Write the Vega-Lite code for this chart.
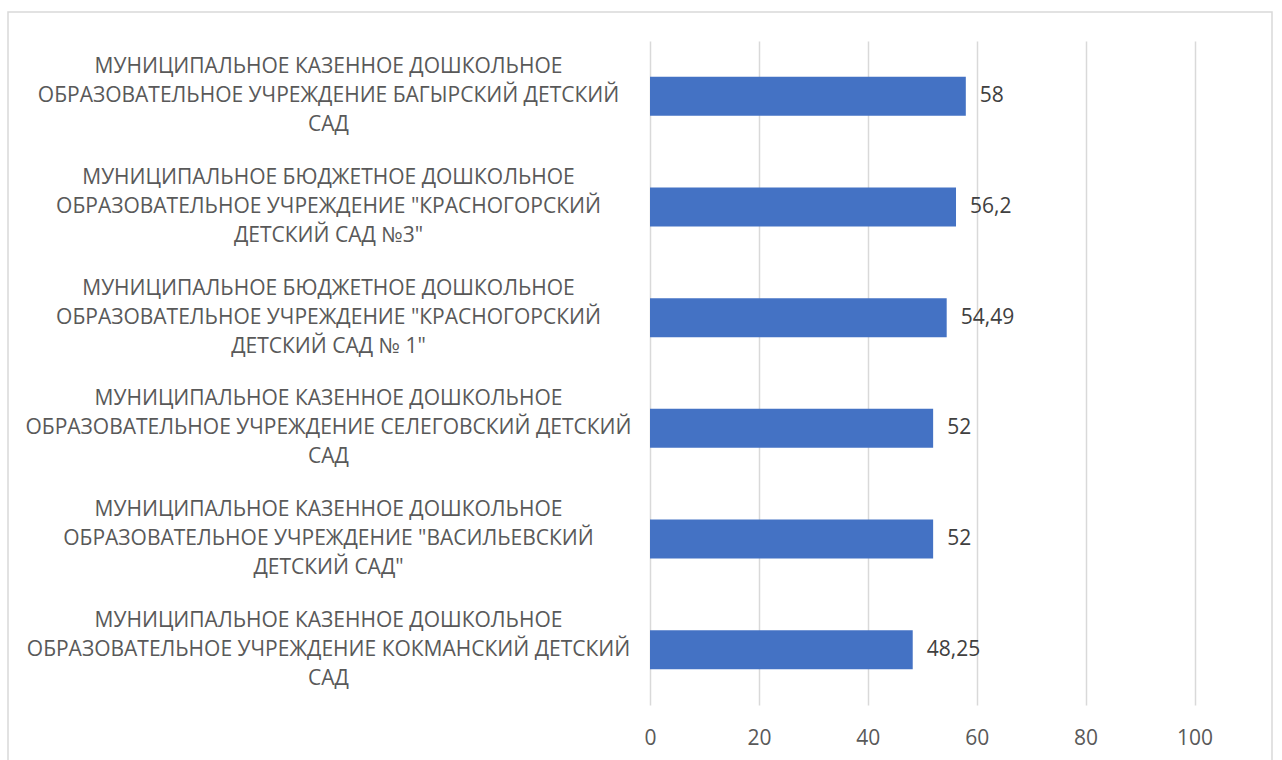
{
  "$schema": "https://vega.github.io/schema/vega-lite/v6.json",
  "autosize": {"type": "none"},
  "width": 1264,
  "height": 752,
  "padding": {"left": 8, "top": 12, "right": 10, "bottom": 0},
  "background": "white",
  "config": {
    "view": {"stroke": "#d9d9d9", "strokeWidth": 1.5},
    "font": "Open Sans",
    "locale": {"number": {"decimal": ",", "thousands": " ", "grouping": [3], "currency": ["", " ₽"]}}
  },
  "data": {
    "values": [
      {"name": "МУНИЦИПАЛЬНОЕ КАЗЕННОЕ ДОШКОЛЬНОЕ|ОБРАЗОВАТЕЛЬНОЕ УЧРЕЖДЕНИЕ БАГЫРСКИЙ ДЕТСКИЙ|САД", "value": 58},
      {"name": "МУНИЦИПАЛЬНОЕ БЮДЖЕТНОЕ ДОШКОЛЬНОЕ|ОБРАЗОВАТЕЛЬНОЕ УЧРЕЖДЕНИЕ \"КРАСНОГОРСКИЙ|ДЕТСКИЙ САД №3\"", "value": 56.2},
      {"name": "МУНИЦИПАЛЬНОЕ БЮДЖЕТНОЕ ДОШКОЛЬНОЕ|ОБРАЗОВАТЕЛЬНОЕ УЧРЕЖДЕНИЕ \"КРАСНОГОРСКИЙ|ДЕТСКИЙ САД № 1\"", "value": 54.49},
      {"name": "МУНИЦИПАЛЬНОЕ КАЗЕННОЕ ДОШКОЛЬНОЕ|ОБРАЗОВАТЕЛЬНОЕ УЧРЕЖДЕНИЕ СЕЛЕГОВСКИЙ ДЕТСКИЙ|САД", "value": 52},
      {"name": "МУНИЦИПАЛЬНОЕ КАЗЕННОЕ ДОШКОЛЬНОЕ|ОБРАЗОВАТЕЛЬНОЕ УЧРЕЖДЕНИЕ \"ВАСИЛЬЕВСКИЙ|ДЕТСКИЙ САД\"", "value": 52},
      {"name": "МУНИЦИПАЛЬНОЕ КАЗЕННОЕ ДОШКОЛЬНОЕ|ОБРАЗОВАТЕЛЬНОЕ УЧРЕЖДЕНИЕ КОКМАНСКИЙ ДЕТСКИЙ|САД", "value": 48.25}
    ]
  },
  "encoding": {
    "y": {
      "field": "name",
      "type": "nominal",
      "sort": null,
      "scale": {"range": [29, 693], "paddingInner": 0.648, "paddingOuter": 0.324},
      "axis": {
        "title": null,
        "orient": "left",
        "offset": -642,
        "domain": false,
        "ticks": false,
        "tickSize": 0,
        "grid": false,
        "labelExpr": "split(datum.label, '|')",
        "labelAlign": "center",
        "labelBaseline": "middle",
        "labelOffset": -29,
        "labelPadding": 322,
        "labelLimit": 0,
        "labelFontSize": 21,
        "labelLineHeight": 29,
        "labelColor": "#595959",
        "labelFont": "Open Sans"
      }
    }
  },
  "layer": [
    {
      "mark": {"type": "bar", "color": "#4472C4"},
      "encoding": {
        "x": {
          "field": "value",
          "type": "quantitative",
          "scale": {"domain": [0, 100], "range": [642, 1186.5], "nice": false},
          "axis": {
            "title": null,
            "orient": "top",
            "values": [0, 20, 40, 60, 80, 100],
            "domain": false,
            "ticks": false,
            "labels": false,
            "grid": true,
            "gridColor": "#d9d9d9",
            "gridWidth": 1.5
          }
        }
      }
    },
    {
      "mark": {"type": "text", "align": "left", "baseline": "middle", "dx": 14, "fontSize": 21, "color": "#404040", "font": "Open Sans"},
      "encoding": {
        "x": {
          "field": "value",
          "type": "quantitative",
          "axis": {
            "title": null,
            "orient": "bottom",
            "offset": -59,
            "values": [0, 20, 40, 60, 80, 100],
            "domain": false,
            "ticks": false,
            "tickSize": 0,
            "grid": false,
            "labelFlush": false,
            "labelPadding": 22,
            "labelFontSize": 21,
            "labelColor": "#595959",
            "labelFont": "Open Sans"
          }
        },
        "text": {"field": "value", "type": "quantitative", "format": "~g"}
      }
    }
  ],
  "resolve": {"axis": {"x": "independent"}}
}
